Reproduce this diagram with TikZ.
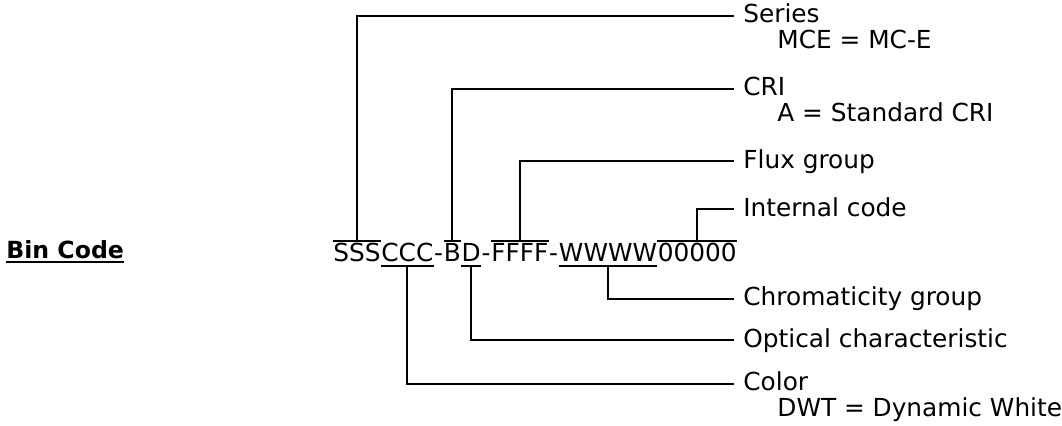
\documentclass[tikz,border=0pt]{standalone}
\usepackage{fontspec}
\setmainfont{DejaVu Sans}
\usetikzlibrary{calc}

\begin{document}
\begin{tikzpicture}[
    x=0.5pt, y=-0.5pt,
    font=\fontsize{12.4}{14}\selectfont,
    link/.style={line width=1pt},
    grp/.style={inner xsep=0pt, inner ysep=2pt, text height=0.83em, text depth=0pt, anchor=base west},
    lbl/.style={inner xsep=4.5pt, inner ysep=0pt, text height=0.73em, text depth=0pt, anchor=west},
    val/.style={inner sep=0pt, anchor=base west}
]
  \useasboundingbox (0,0) rectangle (1062,425);

  % title
  \node[inner sep=0pt, anchor=base west, font=\fontsize{11.8}{14}\selectfont\bfseries] (bincode) at (6,258) {Bin Code};
  \draw[line width=1.2pt] ($(bincode.base west)+(0,4)$) -- ($(bincode.base east)+(0,4)$);

  % the code, one node per field
  \node[grp] (sss) at (333,261.5) {SSS};
  \node[grp] (ccc) at (sss.base east) {CCC};
  \node[grp] (dash1) at (ccc.base east) {-};
  \node[grp] (b) at (dash1.base east) {B};
  \node[grp] (d) at (b.base east) {D};
  \node[grp] (dash2) at (d.base east) {-};
  \node[grp] (ffff) at (dash2.base east) {FFFF};
  \node[grp] (dash3) at (ffff.base east) {-};
  \node[grp] (wwww) at (dash3.base east) {WWWW};
  \node[grp] (zeros) at (wwww.base east) {00000};

  \foreach \g in {sss,b,ffff,zeros}
    \draw[link] (\g.north west) -- (\g.north east);
  \foreach \g in {ccc,d,wwww}
    \draw[link] (\g.south west) -- (\g.south east);

  % labels
  \node[lbl] (series) at (734,15.5) {Series};
  \node[val] (seriesval) at ($(series.base west)+(43,26)$) {MCE = MC-E};
  \node[lbl] (cri) at (734,88.5) {CRI};
  \node[val] (crival) at ($(cri.base west)+(43,26)$) {A = Standard CRI};
  \node[lbl] (flux) at (734,161) {Flux group};
  \node[lbl] (internal) at (734,209) {Internal code};
  \node[lbl] (chroma) at (734,298.5) {Chromaticity group};
  \node[lbl] (optical) at (734,340) {Optical characteristic};
  \node[lbl] (color) at (734,383.5) {Color};
  \node[val] (colorval) at ($(color.base west)+(43,26)$) {DWT = Dynamic White};

  \draw[link] (sss.north) |- (series.west);
  \draw[link] (b.north) |- (cri.west);
  \draw[link] (ffff.north) |- (flux.west);
  \draw[link] (zeros.north) |- (internal.west);
  \draw[link] (wwww.south) |- (chroma.west);
  \draw[link] (d.south) |- (optical.west);
  \draw[link] (ccc.south) |- (color.west);
\end{tikzpicture}
\end{document}
